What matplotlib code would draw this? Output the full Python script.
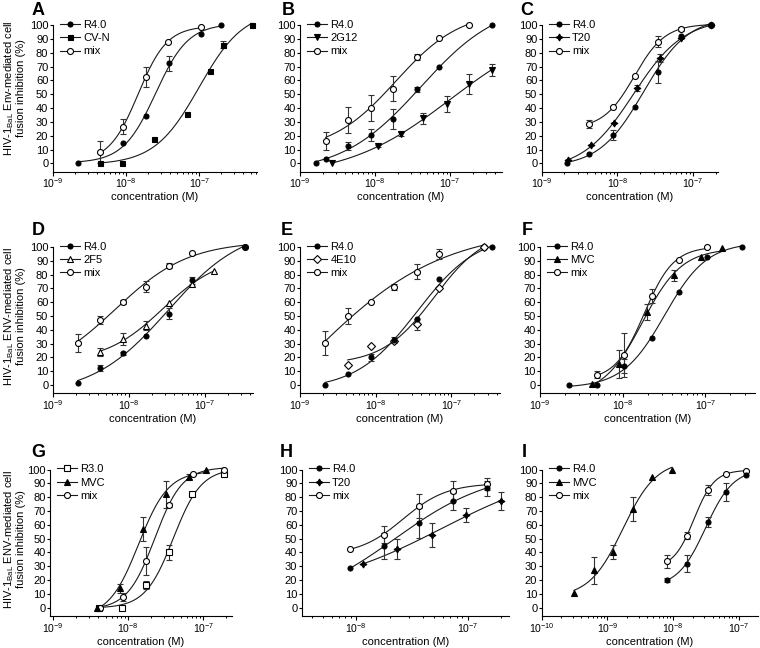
import numpy as np
import matplotlib
matplotlib.use("Agg")
import matplotlib.pyplot as plt
from matplotlib.lines import Line2D
from matplotlib.ticker import FixedLocator, LogFormatterMathtext, NullFormatter

plt.rcParams['font.family'] = ['Liberation Sans', 'DejaVu Sans']
plt.rcParams['mathtext.default'] = 'regular'
plt.rcParams['font.size'] = 8

# ---------------- data (concentration in M, % fusion inhibition, SD) ----------------
# Panel A
a_conc_r40 = [2.2e-9, 9.2e-9, 1.85e-8, 3.9e-8, 1.04e-7, 2.0e-7]
a_r40 = [0, 14.5, 34, 72.5, 93.5, 100]
a_r40_err = [0, 0, 0, 5.5, 0, 0]
a_conc_cvn = [4.4e-9, 8.9e-9, 2.43e-8, 6.7e-8, 1.4e-7, 2.08e-7, 5.2e-7]
a_cvn = [0, 0, 17.5, 36, 67, 86, 100]
a_cvn_err = [0, 0, 0, 0, 0, 2.5, 0]
a_conc_mix = [4.4e-9, 9.2e-9, 1.85e-8, 3.75e-8, 1.04e-7]
a_mix = [8, 26.5, 62.5, 88, 98.5]
a_mix_err = [8, 5.5, 7, 0, 0]
# Panel B
b_conc_r40 = [1.62e-9, 2.2e-9, 4.33e-9, 8.75e-9, 1.75e-8, 3.6e-8, 7.2e-8, 3.66e-7]
b_r40 = [0, 3, 12.5, 20.5, 32, 53.5, 69.5, 100]
b_r40_err = [0, 0, 3, 4, 7, 2, 0, 0]
b_conc_2g12 = [2.64e-9, 1.09e-8, 2.22e-8, 4.4e-8, 9.0e-8, 1.79e-7, 3.6e-7]
b_2g12 = [0, 12.5, 21, 32.5, 43, 57.5, 67.5]
b_2g12_err = [0, 1, 1.5, 4, 6, 7, 4.5]
b_conc_mix = [2.2e-9, 4.33e-9, 8.75e-9, 1.75e-8, 3.6e-8, 7.2e-8, 1.79e-7]
b_mix = [16.5, 31.5, 40, 54, 77, 90.5, 100]
b_mix_err = [6.5, 9.5, 9.5, 9, 2, 0, 0]
# Panel C
c_conc_r40 = [2.14e-9, 4.26e-9, 8.67e-9, 1.71e-8, 3.41e-8, 6.93e-8, 1.73e-7]
c_r40 = [0, 6.5, 20.5, 40.5, 66, 92.5, 100]
c_r40_err = [0, 0, 3.5, 0, 8, 0, 0]
c_conc_t20 = [2.21e-9, 4.49e-9, 9.0e-9, 1.84e-8, 3.66e-8, 6.93e-8, 1.73e-7]
c_t20 = [2.5, 13, 29, 54.5, 76, 91, 100]
c_t20_err = [0, 0, 0, 2.5, 3, 0, 0]
c_conc_mix = [4.26e-9, 8.67e-9, 1.71e-8, 3.41e-8, 6.93e-8, 1.73e-7]
c_mix = [28.5, 41, 63, 88, 97.5, 100]
c_mix_err = [3, 0, 0, 4, 1.5, 0]
# Panel D
d_conc_r40 = [2.13e-9, 4.2e-9, 8.5e-9, 1.67e-8, 3.4e-8, 6.75e-8, 3.4e-7]
d_r40 = [1.2, 12.5, 23, 35.5, 51.5, 76, 100]
d_r40_err = [0, 2, 1, 0, 4, 2.5, 0]
d_conc_2f5 = [4.2e-9, 8.5e-9, 1.67e-8, 3.4e-8, 6.75e-8, 1.34e-7]
d_2f5 = [24, 33.5, 43, 59.5, 73.5, 82.5]
d_2f5_err = [3, 4.5, 3, 0, 0, 0]
d_conc_mix = [2.13e-9, 4.2e-9, 8.5e-9, 1.67e-8, 3.4e-8, 6.75e-8, 3.4e-7]
d_mix = [30.5, 47, 60, 71, 86.5, 95.5, 100]
d_mix_err = [6.5, 3, 1.5, 4, 2, 0, 0]
# Panel E
e_conc_r40 = [2.14e-9, 4.27e-9, 8.6e-9, 1.75e-8, 3.48e-8, 6.93e-8, 3.48e-7]
e_r40 = [0, 8, 20, 32.5, 48, 77, 100]
e_r40_err = [0, 0, 2.5, 2, 0, 0, 0]
e_conc_4e10 = [4.27e-9, 8.6e-9, 1.75e-8, 3.48e-8, 6.93e-8, 2.73e-7]
e_4e10 = [14.5, 28, 32, 44, 70.5, 100]
e_4e10_err = [0, 0, 0, 4, 0, 0]
e_conc_mix = [2.14e-9, 4.27e-9, 8.6e-9, 1.75e-8, 3.48e-8, 6.93e-8, 2.73e-7]
e_mix = [30.5, 50, 60, 71, 82, 95, 100]
e_mix_err = [8.5, 5.5, 0, 2.5, 5.5, 3.5, 0]
# Panel F
f_conc_r40 = [2.27e-9, 4.84e-9, 1.04e-8, 2.24e-8, 4.84e-8, 1.04e-7, 2.8e-7]
f_r40 = [0, 0, 13.5, 34, 67, 92.5, 100]
f_r40_err = [0, 0, 5, 0, 0, 0, 0]
f_conc_mvc = [4.2e-9, 9.1e-9, 1.95e-8, 4.18e-8, 8.95e-8, 1.58e-7]
f_mvc = [1, 15, 53, 79.5, 92.5, 99]
f_mvc_err = [0, 10, 6, 4, 0, 0]
f_conc_mix = [4.84e-9, 1.04e-8, 2.24e-8, 4.84e-8, 1.04e-7]
f_mix = [7.5, 22, 64.5, 90.5, 100]
f_mix_err = [2.5, 16, 5, 0, 0]
# Panel G
g_conc_r30 = [4.1e-9, 8.3e-9, 1.72e-8, 3.52e-8, 7.1e-8, 1.89e-7]
g_r30 = [0, 0, 16.5, 40, 82.5, 97]
g_r30_err = [0, 0, 3, 5.5, 0, 0]
g_conc_mvc = [3.8e-9, 7.7e-9, 1.58e-8, 3.18e-8, 6.5e-8, 1.07e-7]
g_mvc = [0, 14, 57, 82, 95, 99.5]
g_mvc_err = [0, 3.5, 8.5, 10, 2, 0]
g_conc_mix = [4.2e-9, 8.4e-9, 1.7e-8, 3.48e-8, 7.4e-8, 1.89e-7]
g_mix = [0, 8, 34, 74.5, 97, 100]
g_mix_err = [0, 3, 10, 1.5, 0, 0]
# Panel H
h_conc_r40 = [8.83e-9, 1.76e-8, 3.63e-8, 7.38e-8, 1.49e-7]
h_r40 = [28.5, 44.5, 61.5, 77, 86.5]
h_r40_err = [0, 9.5, 11, 6, 5.5]
h_conc_t20 = [1.15e-8, 2.32e-8, 4.78e-8, 9.7e-8, 2.0e-7]
h_t20 = [31.5, 42.5, 52.5, 67, 77.5]
h_t20_err = [0, 7.5, 8.5, 5, 6.5]
h_conc_mix = [8.83e-9, 1.76e-8, 3.63e-8, 7.38e-8, 1.49e-7]
h_mix = [42.5, 53, 73.5, 84.5, 89.5]
h_mix_err = [0, 6, 8.5, 7, 4.5]
# Panel I
i_conc_r40 = [8.2e-9, 1.61e-8, 3.37e-8, 6.4e-8, 1.28e-7]
i_r40 = [20, 32, 62, 84, 96]
i_r40_err = [1.5, 6.5, 3.5, 6.5, 0]
i_conc_mvc = [3.1e-10, 6.27e-10, 1.23e-9, 2.49e-9, 4.84e-9, 9.55e-9]
i_mvc = [10.5, 27, 40.5, 71.5, 95, 100]
i_mvc_err = [0, 9.5, 5, 9, 0, 0]
i_conc_mix = [8.2e-9, 1.61e-8, 3.37e-8, 6.4e-8, 1.28e-7]
i_mix = [33.5, 52, 85, 97, 99]
i_mix_err = [4.5, 2.5, 3.5, 0, 0]

y_ticks = list(range(0, 101, 10))

# ---------------- styles ----------------
STY = {
    'fcirc': dict(marker='o', ms=3.6, mfc='black', z=3.5),
    'ocirc': dict(marker='o', ms=4.3, mfc='white', z=3.0),
    'fsq': dict(marker='s', ms=3.6, mfc='black', z=3.4),
    'osq': dict(marker='s', ms=4.0, mfc='white', z=3.0),
    'fdtri': dict(marker='v', ms=4.2, mfc='black', z=3.4),
    'futri': dict(marker='^', ms=4.2, mfc='black', z=3.4),
    'outri': dict(marker='^', ms=4.6, mfc='white', z=3.1),
    'odiam': dict(marker='D', ms=3.6, mfc='white', z=3.1),
    'star': dict(marker=(4, 1, 0), ms=5.0, mfc='black', z=3.4),
}

W, H = 760, 648
fig = plt.figure(figsize=(W / 100, H / 100), dpi=100)

YLIM = (-6, 105)
row_bottom = [171.6, 393.3, 616.0]
axh = 153.3
# (L px, R px, log of left limit, px per decade)
cols = {
    'A': (52.7, 257, -9.0, 73.3), 'B': (300, 502, -9.0, 75.0), 'C': (541.7, 718, -9.0, 75.7),
    'D': (52.7, 253, -9.0, 76.0), 'E': (300, 500, -9.0, 75.7), 'F': (540, 755, -9.0, 82.7),
    'G': (50, 232, -9.044, 75.0), 'H': (301.7, 509, -8.49, 111.3), 'I': (541.7, 758, -10.0, 65.7),
}
rowof = {'A': 0, 'B': 0, 'C': 0, 'D': 1, 'E': 1, 'F': 1, 'G': 2, 'H': 2, 'I': 2}
letter_pos = {'A': (32, 15), 'B': (281.5, 15), 'C': (520.5, 15),
              'D': (31.7, 235), 'E': (280.5, 235), 'F': (521.5, 235),
              'G': (31.7, 457), 'H': (280, 457), 'I': (521.5, 457)}

panels = {
    'A': [('R4.0', a_conc_r40, a_r40, a_r40_err, 'fcirc'),
          ('CV-N', a_conc_cvn, a_cvn, a_cvn_err, 'fsq'),
          ('mix', a_conc_mix, a_mix, a_mix_err, 'ocirc')],
    'B': [('R4.0', b_conc_r40, b_r40, b_r40_err, 'fcirc'),
          ('2G12', b_conc_2g12, b_2g12, b_2g12_err, 'fdtri'),
          ('mix', b_conc_mix, b_mix, b_mix_err, 'ocirc')],
    'C': [('R4.0', c_conc_r40, c_r40, c_r40_err, 'fcirc'),
          ('T20', c_conc_t20, c_t20, c_t20_err, 'star'),
          ('mix', c_conc_mix, c_mix, c_mix_err, 'ocirc')],
    'D': [('R4.0', d_conc_r40, d_r40, d_r40_err, 'fcirc'),
          ('2F5', d_conc_2f5, d_2f5, d_2f5_err, 'outri'),
          ('mix', d_conc_mix, d_mix, d_mix_err, 'ocirc')],
    'E': [('R4.0', e_conc_r40, e_r40, e_r40_err, 'fcirc'),
          ('4E10', e_conc_4e10, e_4e10, e_4e10_err, 'odiam'),
          ('mix', e_conc_mix, e_mix, e_mix_err, 'ocirc')],
    'F': [('R4.0', f_conc_r40, f_r40, f_r40_err, 'fcirc'),
          ('MVC', f_conc_mvc, f_mvc, f_mvc_err, 'futri'),
          ('mix', f_conc_mix, f_mix, f_mix_err, 'ocirc')],
    'G': [('R3.0', g_conc_r30, g_r30, g_r30_err, 'osq'),
          ('MVC', g_conc_mvc, g_mvc, g_mvc_err, 'futri'),
          ('mix', g_conc_mix, g_mix, g_mix_err, 'ocirc')],
    'H': [('R4.0', h_conc_r40, h_r40, h_r40_err, 'fcirc'),
          ('T20', h_conc_t20, h_t20, h_t20_err, 'star'),
          ('mix', h_conc_mix, h_mix, h_mix_err, 'ocirc')],
    'I': [('R4.0', i_conc_r40, i_r40, i_r40_err, 'fcirc'),
          ('MVC', i_conc_mvc, i_mvc, i_mvc_err, 'futri'),
          ('mix', i_conc_mix, i_mix, i_mix_err, 'ocirc')],
}


def fit_4pl(conc, val):
    """Least-squares 4-parameter logistic fit (grid over EC50/Hill, linear in bottom/top)."""
    lx = np.log10(np.asarray(conc, float))
    y = np.asarray(val, float)
    cs = np.linspace(lx.min() - 1.5, lx.max() + 1.5, 241)
    hs = np.linspace(0.25, 3.0, 111)
    C, Hh = np.meshgrid(cs, hs, indexing='ij')
    S = 1.0 / (1.0 + 10.0 ** ((C[..., None] - lx) * Hh[..., None]))
    a = 1 - S
    saa = (a * a).sum(-1); sab = (a * S).sum(-1); sbb = (S * S).sum(-1)
    say = (a * y).sum(-1); sby = (S * y).sum(-1)
    det = saa * sbb - sab ** 2
    det = np.where(np.abs(det) < 1e-12, np.nan, det)
    bot = (say * sbb - sby * sab) / det
    top = (saa * sby - sab * say) / det
    pred = bot[..., None] * a + top[..., None] * S
    res = ((pred - y) ** 2).sum(-1)
    res = np.where(np.isfinite(res), res, np.inf)
    i = np.unravel_index(np.argmin(res), res.shape)
    return C[i], Hh[i], bot[i], top[i]


for key, series in panels.items():
    L, R, lo, dec = cols[key]
    r = rowof[key]
    ax = fig.add_axes([L / W, 1 - row_bottom[r] / H, (R - L) / W, axh / H])
    hi = lo + (R - L) / dec
    ax.set_xscale('log')
    ax.set_xlim(10 ** lo, 10 ** hi)
    ax.set_ylim(*YLIM)
    handles = []
    for lab, conc, val, err, sty in series:
        conc = np.asarray(conc, float); val = np.asarray(val, float); err = np.asarray(err, float)
        st = STY[sty]
        c50, hill, bot, top = fit_4pl(conc, val)
        xs = np.logspace(np.log10(conc.min()), np.log10(conc.max()), 300)
        ys = bot + (top - bot) / (1 + 10 ** ((c50 - np.log10(xs)) * hill))
        ax.plot(xs, ys, color='#1a1a1a', lw=0.8, zorder=2, clip_on=False)
        m = err > 0
        if m.any():
            ax.errorbar(conc[m], val[m], yerr=err[m], fmt='none', ecolor='#333333',
                        elinewidth=0.8, capsize=2.3, capthick=0.8, zorder=2.5, clip_on=False)
        ax.plot(conc, val, ls='none', marker=st['marker'], ms=st['ms'], mfc=st['mfc'],
                mec='black', mew=0.8, zorder=st['z'], clip_on=False)
        handles.append(Line2D([], [], color='#1a1a1a', lw=0.8, marker=st['marker'],
                              ms=st['ms'], mfc=st['mfc'], mec='black', mew=0.8))
    labels = [s[0] for s in series]
    ax.legend(handles, labels, loc='upper left',
              bbox_to_anchor=(7 / (R - L), 1.0 - 1.5 / axh),
              frameon=False, borderpad=0, borderaxespad=0, handlelength=1.8,
              handletextpad=0.3, labelspacing=0.3, fontsize=8, numpoints=1)

    ax.spines[['top', 'right']].set_visible(False)
    ax.spines['left'].set_bounds(YLIM[0], 100)
    for s in ('left', 'bottom'):
        ax.spines[s].set_linewidth(0.8)
    ax.yaxis.set_major_locator(FixedLocator(y_ticks))
    # decade ticks and minor ticks strictly inside the visible range
    decs = np.arange(np.ceil(lo - 1e-9), np.floor(hi) + 1)
    major = [10.0 ** d for d in decs if lo - 1e-6 <= d <= hi]
    minor = [m * 10.0 ** d for d in np.arange(np.floor(lo), np.ceil(hi))
             for m in range(2, 10) if lo < np.log10(m) + d < hi]
    ax.xaxis.set_major_locator(FixedLocator(major))
    ax.xaxis.set_minor_locator(FixedLocator(minor))
    ax.xaxis.set_major_formatter(LogFormatterMathtext())
    ax.xaxis.set_minor_formatter(NullFormatter())
    ax.tick_params(axis='y', length=2.2, width=0.8, pad=1, labelsize=8)
    ax.tick_params(axis='x', which='major', length=2.8, width=0.8, pad=0.8, labelsize=7.5)
    ax.tick_params(axis='x', which='minor', length=1.7, width=0.7)
    ax.set_xlabel('concentration (M)', fontsize=8, labelpad=1.5)

    lx, ly = letter_pos[key]
    fig.text(lx / W, 1 - ly / H, key, fontsize=13, fontweight='bold', ha='left', va='baseline')

# y axis labels
ylab_rows = [(88, 'Env'), (316, 'ENV'), (539, 'ENV')]
for yc, env in ylab_rows:
    fig.text(9.5 / W, 1 - yc / H, 'HIV-1$_{BaL}$ ' + env + '-mediated cell', rotation=90,
             ha='center', va='center', fontsize=8)
    fig.text(21.5 / W, 1 - yc / H, 'fusion inhibition (%)', rotation=90,
             ha='center', va='center', fontsize=8)

fig.savefig('out.png', dpi=100)
